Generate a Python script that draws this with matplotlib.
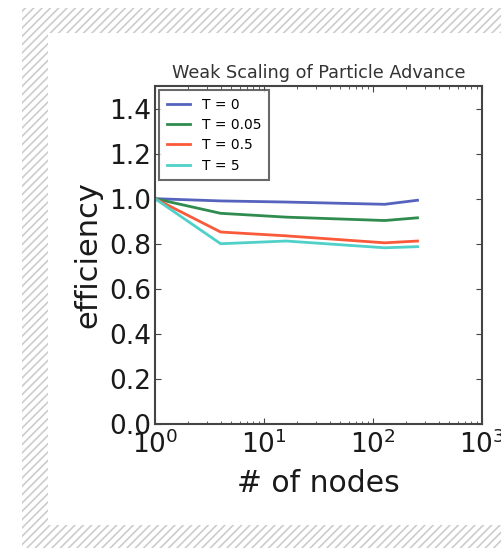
import matplotlib
matplotlib.use("Agg")
import matplotlib.pyplot as plt
from matplotlib.patches import Rectangle

# data
nodes = [1, 4, 16, 128, 256]
labels = ["T = 0", "T = 0.05", "T = 0.5", "T = 5"]
eff_t0 = [1.0, 0.99, 0.985, 0.975, 0.993]
eff_t005 = [1.0, 0.935, 0.918, 0.903, 0.915]
eff_t05 = [1.0, 0.852, 0.835, 0.804, 0.812]
eff_t5 = [1.0, 0.80, 0.812, 0.782, 0.787]
colors = ["#5563bd", "#2f8c4e", "#fb5a3a", "#4fd0c8"]

plt.rcParams["mathtext.fontset"] = "dejavusans"
plt.rcParams["hatch.linewidth"] = 1.2

W, H = 501, 548
fig = plt.figure(figsize=(W / 100, H / 100), dpi=100)

# hatched frame around the white card
frame = Rectangle((22 / W, 0), 1 - 22 / W, 1 - 8 / H, transform=fig.transFigure,
                  facecolor="white", edgecolor="#cccccc", hatch="////", linewidth=0, zorder=-2)
card = Rectangle((48 / W, (H - 525) / H), 1, (525 - 33) / H, transform=fig.transFigure,
                 facecolor="white", edgecolor="none", zorder=-1)
fig.patches.extend([frame, card])

ax = fig.add_axes([155 / W, (H - 424) / H, 327 / W, 338 / H])

for ys, lab, c in zip([eff_t0, eff_t005, eff_t05, eff_t5], labels, colors):
    ax.plot(nodes, ys, color=c, linewidth=2, label=lab)

ax.set_xscale("log")
ax.set_xlim(1, 1000)
ax.set_ylim(0, 1.5)
ax.set_yticks([0.0, 0.2, 0.4, 0.6, 0.8, 1.0, 1.2, 1.4])
ax.set_yticklabels(["0.0", "0.2", "0.4", "0.6", "0.8", "1.0", "1.2", "1.4"])

ax.tick_params(which="both", direction="in", top=True, right=True, labelsize=19, colors="#444444",
               labelcolor="#1a1a1a")
ax.tick_params(which="major", length=4)
ax.tick_params(axis="y", pad=3)
ax.tick_params(axis="x", pad=5)
ax.tick_params(which="minor", length=2)
for s in ax.spines.values():
    s.set_linewidth(1.5)
    s.set_color("#444444")

ax.set_xlabel("# of nodes", fontsize=21.5, color="#1a1a1a", labelpad=7)
ax.set_ylabel("efficiency", fontsize=22, color="#1a1a1a", labelpad=5)
ax.set_title("Weak Scaling of Particle Advance", fontsize=12.7, color="#333333", pad=6)

leg = ax.legend(loc="upper left", fontsize=10, frameon=True, fancybox=False, handlelength=1.7,
                borderpad=0.55, labelspacing=0.45, borderaxespad=0.3, handletextpad=0.85)
leg.get_frame().set_edgecolor("#444444")
leg.get_frame().set_linewidth(1.5)

fig.savefig("out.png", dpi=100)
